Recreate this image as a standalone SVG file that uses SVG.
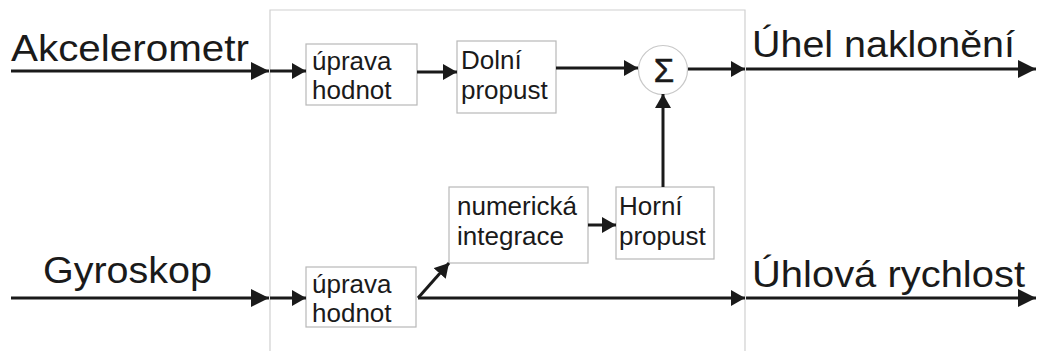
<svg xmlns="http://www.w3.org/2000/svg" width="1038" height="351" viewBox="0 0 1038 351">
<defs>
<style>
.big{font-family:"Liberation Sans",Arial,sans-serif;font-size:37px;fill:#1a1a1a}
.lbl{font-family:"Liberation Sans",Arial,sans-serif;font-size:26px;fill:#1a1a1a}
.box{fill:#fff;stroke:#b8b8b8;stroke-width:1.2}
.ln{stroke:#1a1a1a;stroke-width:3;fill:none}
</style>
<marker id="ah" markerUnits="userSpaceOnUse" markerWidth="18" markerHeight="18" refX="18" refY="9" orient="auto"><path d="M0,0 L18,9 L0,18 z" fill="#1a1a1a"/></marker>
<marker id="as" markerUnits="userSpaceOnUse" markerWidth="14" markerHeight="16" refX="14" refY="8" orient="auto"><path d="M0,0 L14,8 L0,16 z" fill="#1a1a1a"/></marker>
</defs>
<rect width="1038" height="351" fill="#fff"/>
<g id="frame"><path d="M270,351 V10 H745 V351" fill="none" stroke="#d0d0d0" stroke-width="1.2"/></g>
<g id="in-acc"><text class="big" x="11" y="61" textLength="238" lengthAdjust="spacingAndGlyphs">Akcelerometr</text></g>
<g id="in-gyro"><text class="big" x="43" y="283" textLength="169" lengthAdjust="spacingAndGlyphs">Gyroskop</text></g>
<g id="out-angle"><text class="big" x="752" y="57" textLength="263" lengthAdjust="spacingAndGlyphs">Úhel naklonění</text></g>
<g id="out-rate"><text class="big" x="752" y="287" textLength="273" lengthAdjust="spacingAndGlyphs">Úhlová rychlost</text></g>
<g id="uprava1"><rect class="box" x="306" y="44" width="111" height="61"/><text class="lbl" x="312" y="70">úprava</text><text class="lbl" x="312" y="99">hodnot</text></g>
<g id="dolni"><rect class="box" x="457" y="41" width="99" height="72"/><text class="lbl" x="461" y="69">Dolní</text><text class="lbl" x="461" y="99">propust</text></g>
<g id="sum"><circle cx="663" cy="70" r="24.5" fill="#fff" stroke="#c8c8c8" stroke-width="1.2"/><text x="664" y="82" text-anchor="middle" style="font-family:'Liberation Sans',Arial,sans-serif;font-size:33px;fill:#1a1a1a;stroke:#1a1a1a;stroke-width:0.6">Σ</text></g>
<g id="uprava2"><rect class="box" x="306" y="267" width="110" height="60"/><text class="lbl" x="312" y="293">úprava</text><text class="lbl" x="312" y="322">hodnot</text></g>
<g id="integrace"><rect class="box" x="449" y="187" width="139" height="76"/><text class="lbl" x="457" y="215">numerická</text><text class="lbl" x="457" y="245">integrace</text></g>
<g id="horni"><rect class="box" x="616" y="187" width="98" height="72"/><text class="lbl" x="619" y="215">Horní</text><text class="lbl" x="619" y="245">propust</text></g>
<g id="connectors">
<line class="ln" x1="11" y1="71" x2="269" y2="71" marker-end="url(#ah)"/>
<line class="ln" x1="270" y1="71" x2="306" y2="71" marker-end="url(#as)"/>
<line class="ln" x1="417" y1="72" x2="457" y2="72" marker-end="url(#as)"/>
<line class="ln" x1="556" y1="68" x2="638" y2="68" marker-end="url(#as)"/>
<line class="ln" x1="688" y1="69" x2="745" y2="69" marker-end="url(#as)"/>
<line class="ln" x1="746" y1="69" x2="1036" y2="69" marker-end="url(#ah)"/>
<line class="ln" x1="663" y1="187" x2="663" y2="94" marker-end="url(#as)"/>
<line class="ln" x1="11" y1="298" x2="269" y2="298" marker-end="url(#ah)"/>
<line class="ln" x1="270" y1="298" x2="306" y2="298" marker-end="url(#as)"/>
<line class="ln" x1="418" y1="298" x2="745" y2="298" marker-end="url(#as)"/>
<line class="ln" x1="746" y1="298" x2="1036" y2="298" marker-end="url(#ah)"/>
<line class="ln" x1="418" y1="298" x2="449" y2="263" marker-end="url(#as)"/>
<line class="ln" x1="588" y1="225" x2="616" y2="225" marker-end="url(#as)"/>
</g>
</svg>
